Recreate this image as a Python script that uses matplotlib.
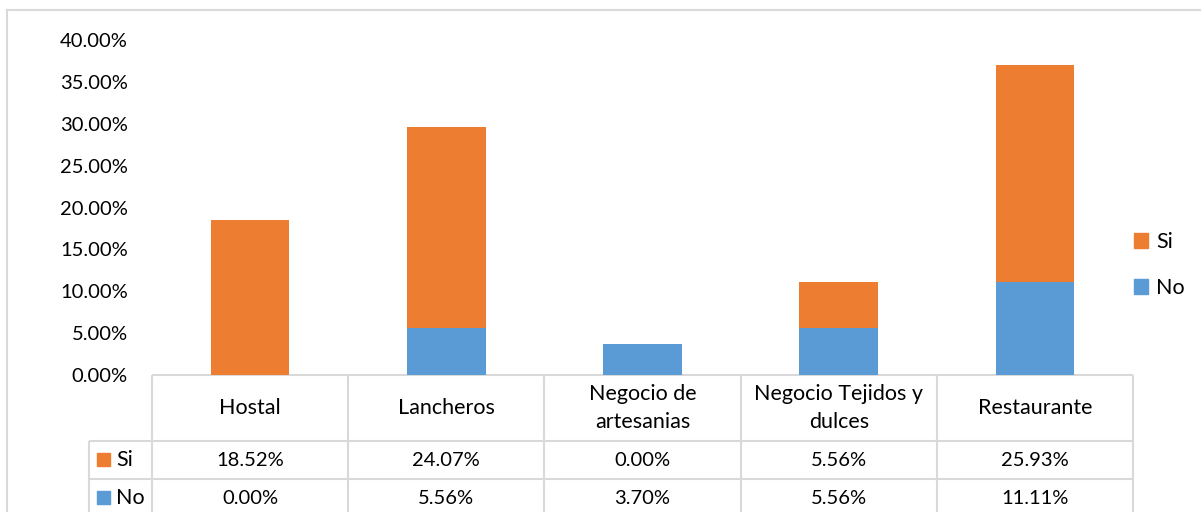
import numpy as np
import matplotlib
matplotlib.use('Agg')
import matplotlib.pyplot as plt
from matplotlib.transforms import blended_transform_factory
from matplotlib.patches import Patch, Rectangle

plt.rcParams['font.family'] = ['Lato', 'DejaVu Sans']

# datos
categorias = ['Hostal', 'Lancheros', 'Negocio de\nartesanias', 'Negocio Tejidos y\ndulces', 'Restaurante']
si = [18.52, 24.07, 0.00, 5.56, 25.93]
no = [0.00, 5.56, 3.70, 5.56, 11.11]
series = ['Si', 'No']
yticks = [0, 5, 10, 15, 20, 25, 30, 35, 40]

naranja = '#ED7D31'
azul = '#5B9BD5'
gris = '#D9D9D9'
fs = 14.5   # numeros
fs_t = 15.5  # textos

W, H = 1201, 512
fig = plt.figure(figsize=(W / 100, H / 100), dpi=100)

# capa en pixeles para la tabla y el marco
over = fig.add_axes([0, 0, 1, 1])
over.set_xlim(0, W)
over.set_ylim(H, 0)
over.axis('off')

ax = fig.add_axes([152 / W, (H - 375) / H, 981 / W, (375 - 40.2) / H])
x = np.arange(len(categorias))
ax.bar(x, np.array(no) / 100, width=0.4, color=azul, label='No')
ax.bar(x, np.array(si) / 100, width=0.4, bottom=np.array(no) / 100, color=naranja, label='Si')
ax.set_xlim(-0.5, len(categorias) - 0.5)
ax.set_ylim(0, 0.40)
ax.set_yticks(np.array(yticks) / 100)
ax.set_yticklabels(['{:.2f}%'.format(v) for v in yticks], fontsize=fs)
ax.tick_params(axis='y', length=0, pad=17.3)
ax.set_xticks([])
for s in ax.spines.values():
    s.set_visible(False)
ax.patch.set_alpha(0)

# leyenda
handles = [Patch(color=naranja), Patch(color=azul)]
fig.legend(handles, series, loc='center left', bbox_to_anchor=(1115 / W, 1 - 265 / H),
           frameon=False, fontsize=fs_t, handlelength=0.65, handleheight=0.65,
           handletextpad=0.35, labelspacing=1.2)

# marco exterior
over.plot([7, 7], [10, H], color=gris, lw=1.5)
over.plot([7, W], [10, 10], color=gris, lw=1.5)

# tabla de datos
tr = blended_transform_factory(ax.transData, over.transData)
y_top, y_head, y_si, y_bot = 375, 441, 479, H + 2
x_left, x_right, x_lab = 152, 1133, 89
lc = dict(color=gris, lw=1.5, solid_capstyle='butt')
over.plot([x_left, x_right], [y_top, y_top], **lc)
over.plot([x_lab, x_right], [y_head, y_head], **lc)
over.plot([x_lab, x_right], [y_si, y_si], **lc)
over.plot([x_lab, x_lab], [y_head, y_bot], **lc)
for b in np.arange(len(categorias) + 1) - 0.5:
    over.plot([b, b], [y_top, y_bot], transform=tr, **lc)

for i, c in enumerate(categorias):
    over.text(i, (y_top + y_head) / 2, c, transform=tr, ha='center', va='center',
              fontsize=fs_t, linespacing=1.45)
    over.text(i, (y_head + y_si) / 2, '{:.2f}%'.format(si[i]), transform=tr,
              ha='center', va='center', fontsize=fs)
    over.text(i, (y_si + 517) / 2, '{:.2f}%'.format(no[i]), transform=tr,
              ha='center', va='center', fontsize=fs)

# etiquetas de fila
for nombre, col, yc in [('Si', naranja, (y_head + y_si) / 2), ('No', azul, (y_si + 517) / 2)]:
    over.add_patch(Rectangle((97, yc - 7), 13, 13, color=col))
    over.text(116, yc, nombre, ha='left', va='center', fontsize=fs_t)

fig.savefig('out.png', dpi=100)
